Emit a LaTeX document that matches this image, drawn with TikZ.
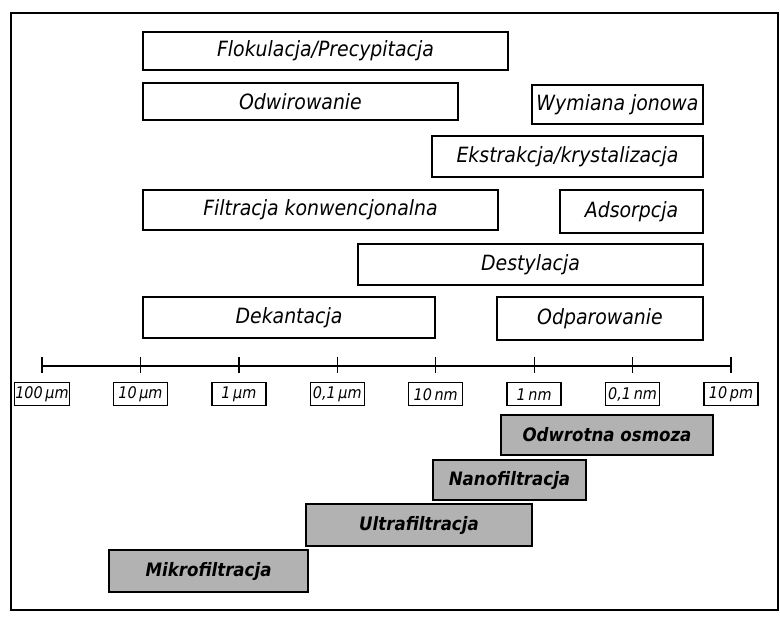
\documentclass[tikz,border=0pt]{standalone}
\usepackage{fontspec}
\setmainfont{DejaVu Sans Condensed}
\usetikzlibrary{positioning}
\tikzset{>=latex}
\tikzset{
  procbox/.style={draw,line width=1.5pt,inner sep=0pt,font=\fontsize{21}{24}\selectfont\itshape},
  membox/.style={draw,line width=1.5pt,inner sep=0pt,fill=black!30,font=\fontsize{18.5}{22}\selectfont\bfseries\itshape},
  scalebox/.style={draw,line width=1.4pt,inner sep=1pt,minimum width=54,minimum height=23,font=\fontsize{16}{18}\selectfont\itshape}
}
% box from corner (#2,#3) to corner (#4,#5), text in the middle
\def\procbox#1#2#3#4#5#6#7{\node[#7,minimum width=#4-#2,minimum height=#5-#3] (#1) at ({(#2+#4)/2},{(#3+#5)/2}) {#6}}

\begin{document}
\begin{tikzpicture}[x=1pt,y=-1pt]
  \useasboundingbox (0,0) rectangle (780,617);

  % define to change easily
  \def\axisy{366}
  \def\tickstep{98.43}

  % frame
  \draw[line width=1.6pt] (11,13) rectangle (778,610);

  % separation processes
  \procbox{flok}{143}{32}{508}{70}{Flokulacja/Precypitacja}{procbox};
  \procbox{odwir}{143}{83}{458}{120}{Odwirowanie}{procbox};
  \procbox{wymiana}{532}{85}{703}{124}{Wymiana jonowa}{procbox};
  \procbox{ekstr}{432}{136}{703}{177}{Ekstrakcja/krystalizacja}{procbox};
  \procbox{filtr}{143}{190}{498}{230}{Filtracja konwencjonalna}{procbox};
  \procbox{adsorp}{560}{190}{703}{233}{Adsorpcja}{procbox};
  \procbox{destyl}{358}{244}{703}{285}{Destylacja}{procbox};
  \procbox{dekant}{143}{297}{435}{338}{Dekantacja}{procbox};
  \procbox{odpar}{497}{297}{703}{340}{Odparowanie}{procbox};

  % axis
  \coordinate (axl) at (42,\axisy);
  \coordinate (axr) at ({42+7*\tickstep},\axisy);
  \draw[line width=1.3pt] (axl) -- (axr);
  \foreach \i/\lab in {0/{100\,µm},1/{10\,µm},2/{1\,µm},3/{0,1\,µm},4/{10\,nm},5/{1\,nm},6/{0,1\,nm},7/{10\,pm}}{
    \coordinate (t\i) at ({42+\i*\tickstep},\axisy);
    \draw[line width=1.3pt] (t\i) ++(0,-9) -- ++(0,16);
    \node[scalebox,below=16pt of t\i] (l\i) {\lab};
  }

  % membrane processes
  \procbox{osmoza}{501}{415}{713}{455}{Odwrotna osmoza}{membox};
  \procbox{nanof}{433}{460}{586}{500}{Nanofiltracja}{membox};
  \procbox{ultraf}{306}{504}{532}{546}{Ultrafiltracja}{membox};
  \procbox{mikrof}{109}{550}{308}{592}{Mikrofiltracja}{membox};

\end{tikzpicture}
\end{document}
